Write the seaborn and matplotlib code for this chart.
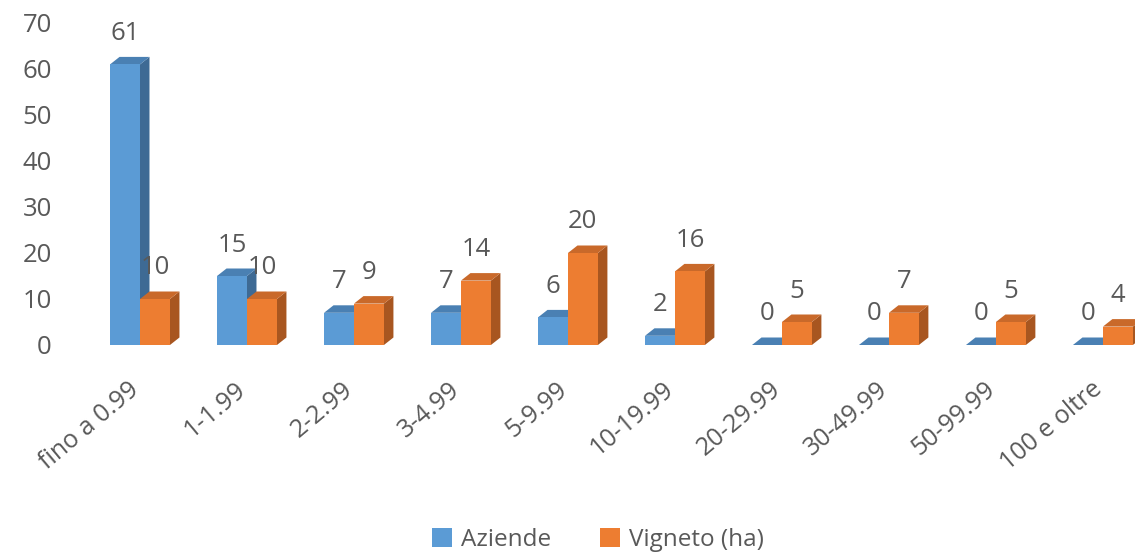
import matplotlib
matplotlib.use("Agg")
import matplotlib.pyplot as plt
import seaborn as sns
import pandas as pd
from matplotlib.patches import Polygon, Patch
from matplotlib.transforms import ScaledTranslation

categories = ["fino a 0.99", "1-1.99", "2-2.99", "3-4.99", "5-9.99",
              "10-19.99", "20-29.99", "30-49.99", "50-99.99", "100 e oltre"]
aziende = [61, 15, 7, 7, 6, 2, 0, 0, 0, 0]
vigneto = [10, 10, 9, 14, 20, 16, 5, 7, 5, 4]
series_names = ["Aziende", "Vigneto (ha)"]
yticks = [0, 10, 20, 30, 40, 50, 60, 70]

front_colors = ["#5B9BD5", "#ED7D31"]
side_colors = ["#3E6A94", "#A85620"]
top_colors = ["#4A80B3", "#C9692A"]
text_color = "#595959"

df = pd.DataFrame({
    "cat": categories * 2,
    "val": aziende + vigneto,
    "serie": [series_names[0]] * len(categories) + [series_names[1]] * len(categories),
})

sns.set_theme(style="white")
plt.rcParams["font.family"] = ["Open Sans", "DejaVu Sans"]

W, H = 1135, 552
base_px, top_px = 345, 23
fig = plt.figure(figsize=(W / 100, H / 100), dpi=100)
ax = fig.add_axes([86.5 / W, (H - base_px) / H, 1048.5 / W, (base_px - top_px) / H])

sns.barplot(data=df, x="cat", y="val", hue="serie", order=categories,
            hue_order=series_names, palette=front_colors, saturation=1,
            width=0.56, gap=0, dodge=True, legend=False, ax=ax, zorder=3,
            linewidth=0, edgecolor="none")

ax.set_xlim(-0.5, 9.3)
ax.set_ylim(0, 70)

# depth of the 3D effect in data units
dx = 9.5 / 107.0
dy = 7.5 / ((base_px - top_px) / 70)

for si, cont in enumerate(ax.containers):
    for bar in cont:
        x0 = bar.get_x()
        w = bar.get_width()
        h = bar.get_height()
        x1 = x0 + w
        side = Polygon([(x1, 0), (x1 + dx, dy), (x1 + dx, h + dy), (x1, h)],
                       closed=True, facecolor=side_colors[si], edgecolor="none",
                       zorder=1.5 + si * 0.1)
        top = Polygon([(x0, h), (x1, h), (x1 + dx, h + dy), (x0 + dx, h + dy)],
                      closed=True, facecolor=top_colors[si], edgecolor="none",
                      zorder=1.5 + si * 0.1)
        ax.add_patch(side)
        ax.add_patch(top)
        ax.annotate(f"{h:.0f}", (x0 + w / 2, h), xytext=(0, 31),
                    textcoords="offset pixels", ha="center", va="center",
                    fontsize=18.5, color=text_color)

for s in ax.spines.values():
    s.set_visible(False)
ax.set_yticks(yticks)
ax.set_yticklabels([str(v) for v in yticks], fontsize=18.5, color=text_color)
ax.tick_params(axis="y", length=0, pad=25)
ax.tick_params(axis="x", length=0, pad=23)
ax.set_xlabel("")
ax.set_ylabel("")
labels = ax.set_xticklabels(categories, fontsize=18, color=text_color,
                            rotation=40, ha="right", rotation_mode="anchor")
for lab in labels:
    lab.set_transform(lab.get_transform() + ScaledTranslation(-12 / 100, 0, fig.dpi_scale_trans))

handles = [Patch(facecolor=c, edgecolor="none") for c in front_colors]
fig.legend(handles, series_names, loc="center", bbox_to_anchor=(0.527, 0.022),
           ncol=2, frameon=False, fontsize=17.5, labelcolor=text_color,
           handlelength=0.8, handleheight=0.8, handletextpad=0.4, columnspacing=2.0)

fig.savefig("out.png", dpi=100)
